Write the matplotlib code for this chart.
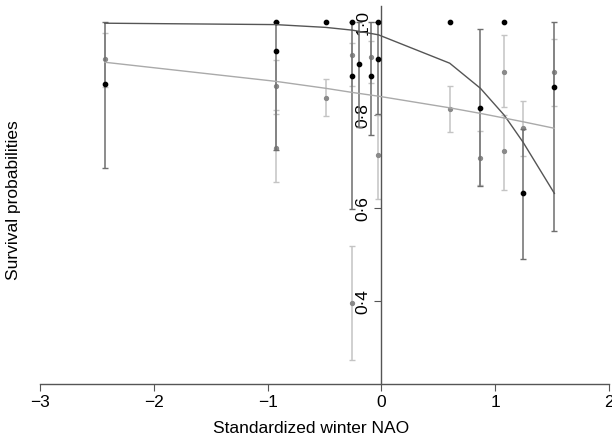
import matplotlib
matplotlib.use("Agg")
import matplotlib.pyplot as plt

plt.rcParams['font.family'] = ['Liberation Sans', 'DejaVu Sans']

# Dark (black) series: NAO, estimate, lower CI, upper CI
nao_dark = [-2.43, -0.93, -0.254, -0.193, -0.088, -0.026, 0.87, 1.245, 1.52]
surv_dark = [0.867, 0.938, 0.884, 0.910, 0.884, 0.921, 0.815, 0.632, 0.860]
lo_dark = [0.686, 0.725, 0.598, 0.774, 0.757, 0.802, 0.647, 0.490, 0.550]
hi_dark = [1.0, 1.0, 1.0, 1.0, 1.0, 1.0, 0.985, 0.770, 1.0]

# Dark series estimates at the boundary (no CI)
nao_dark_b = [-0.93, -0.49, -0.254, -0.026, 0.60, 1.08]
surv_dark_b = [1.0, 1.0, 1.0, 1.0, 1.0, 1.0]

# Light (grey) series
nao_light = [-2.43, -0.93, -0.93, -0.49, -0.254, -0.254, -0.088, -0.026, 0.60, 0.87, 1.08, 1.08, 1.245, 1.52]
surv_light = [0.920, 0.862, 0.729, 0.837, 0.929, 0.396, 0.925, 0.714, 0.813, 0.708, 0.893, 0.723, 0.772, 0.893]
lo_light = [0.860, 0.802, 0.656, 0.798, 0.862, 0.273, 0.870, 0.620, 0.763, 0.650, 0.817, 0.639, 0.712, 0.819]
hi_light = [0.976, 0.918, 0.811, 0.877, 0.955, 0.519, 0.960, 0.800, 0.862, 0.766, 0.972, 0.800, 0.830, 0.963]

# Fitted curves
fit_x = [-2.43, -0.93, -0.49, -0.254, -0.026, 0.60, 0.87, 1.08, 1.245, 1.52]
fit_dark = [0.998, 0.995, 0.989, 0.983, 0.973, 0.912, 0.858, 0.800, 0.742, 0.632]
fit_light = [0.914, 0.873, 0.858, 0.849, 0.841, 0.816, 0.804, 0.794, 0.786, 0.772]

xticks = [-3, -2, -1, 0, 1, 2]
xticklabels = ['\u22123', '\u22122', '\u22121', '0', '1', '2']
yticks = [0.4, 0.6, 0.8, 1.0]
yticklabels = ['0\u00b74', '0\u00b76', '0\u00b78', '1\u00b70']

fig = plt.figure(figsize=(6.12, 4.4), dpi=100)
ax = fig.add_axes([40/612, 56/440, 569/612, 378/440])
ax.set_xlim(-3, 2)
ax.set_ylim(0.222, 1.035)

# light series
ax.errorbar(nao_light, surv_light,
            yerr=[[s - l for s, l in zip(surv_light, lo_light)],
                  [h - s for s, h in zip(surv_light, hi_light)]],
            fmt='o', color='#8a8a8a', ms=2.8, ecolor='#c4c4c4', elinewidth=1.1,
            capsize=2.2, capthick=1.0, zorder=2)
# dark series
ax.errorbar(nao_dark, surv_dark,
            yerr=[[s - l for s, l in zip(surv_dark, lo_dark)],
                  [h - s for s, h in zip(surv_dark, hi_dark)]],
            fmt='o', color='black', ms=3.1, ecolor='#6e6e6e', elinewidth=1.1,
            capsize=2.2, capthick=1.0, zorder=3)
ax.plot(nao_dark_b, surv_dark_b, 'o', color='black', ms=3.1, zorder=3)

ax.plot(fit_x, fit_dark, color='#555555', lw=1.0, zorder=4)
ax.plot(fit_x, fit_light, color='#aaaaaa', lw=1.0, zorder=4)

for s in ['top', 'right']:
    ax.spines[s].set_visible(False)
ax.spines['left'].set_position(('data', 0))
ax.spines['left'].set_color('#555555')
ax.spines['left'].set_linewidth(1.0)
ax.spines['bottom'].set_color('#555555')
ax.spines['bottom'].set_linewidth(1.0)

ax.set_xticks(xticks)
ax.set_xticklabels(xticklabels, fontsize=12.5)
ax.set_yticks(yticks)
ax.set_yticklabels(yticklabels, fontsize=12.5, rotation=90, va='center')
ax.tick_params(axis='both', length=5, width=0.8, color='#555555')
ax.tick_params(axis='x', pad=3)
ax.tick_params(axis='y', pad=3)

fig.text(311/612, 1 - 428/440, 'Standardized winter NAO', ha='center', va='center', fontsize=12.5)
fig.text(14/612, 1 - 200/440, 'Survival probabilities', ha='center', va='center',
         rotation=90, fontsize=12.5)

fig.savefig('out.png', dpi=100)
